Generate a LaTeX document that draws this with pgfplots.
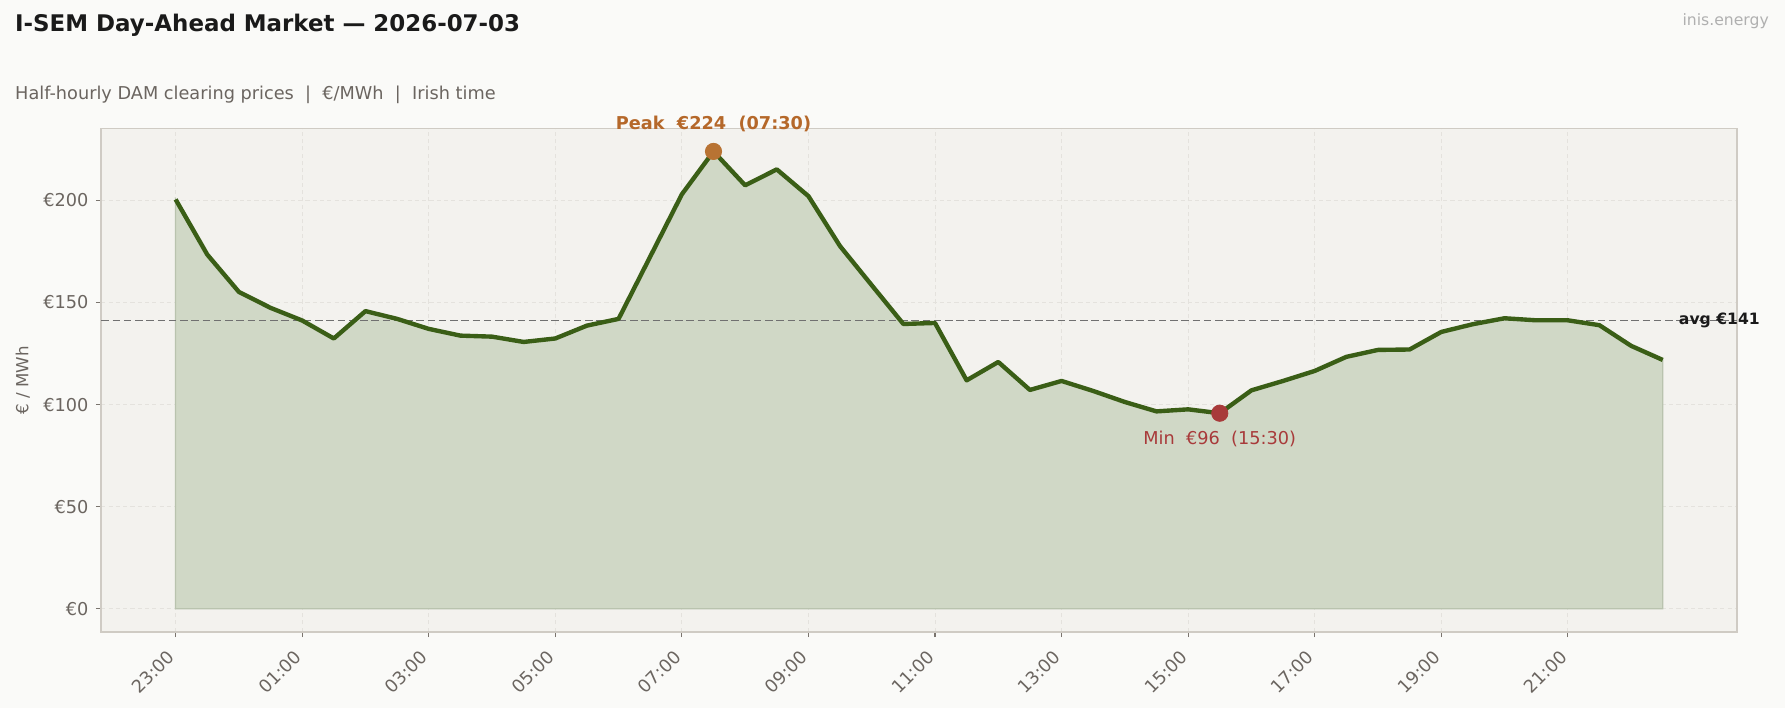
\documentclass[border=0pt]{standalone}
\usepackage{pgfplots}
\pgfplotsset{compat=1.18}
\usepackage{fontspec}
\setmainfont{DejaVu Sans}
\definecolor{figbg}{HTML}{FAFAF8}
\definecolor{axbg}{HTML}{F3F2EE}
\definecolor{frame}{HTML}{CFCBC4}
\definecolor{gridc}{HTML}{E4E2DD}
\definecolor{tickc}{HTML}{7A746E}
\definecolor{labc}{HTML}{6B6560}
\definecolor{linec}{HTML}{3A5E16}
\definecolor{fillc}{HTML}{D0D8C6}
\definecolor{filledge}{HTML}{B9C3AE}
\definecolor{peakc}{HTML}{B87333}
\definecolor{peaktxt}{HTML}{B5682A}
\definecolor{minc}{HTML}{A83A3A}
\definecolor{avgc}{HTML}{707070}
\definecolor{titlec}{HTML}{1A1A1A}
\definecolor{brandc}{HTML}{B0B0B0}
\pgfplotstableread{
i v
0 200.5
1 173.5
2 155.2
3 147.4
4 141.2
5 132.4
6 145.8
7 142.0
8 137.1
9 133.8
10 133.3
11 130.7
12 132.4
13 138.7
14 142.0
15 172.5
16 203.0
17 224.0
18 207.4
19 215.2
20 202.1
21 177.6
22 158.5
23 139.5
24 140.0
25 111.9
26 120.9
27 107.2
28 111.6
29 106.7
30 101.3
31 96.7
32 97.7
33 95.8
34 107.0
35 111.6
36 116.5
37 123.4
38 126.8
39 127.0
40 135.6
41 139.4
42 142.3
43 141.3
44 141.3
45 138.9
46 128.8
47 121.9
}\prices
\begin{document}
\begin{tikzpicture}
\path[fill=figbg] (-48.6pt,-36.6pt) rectangle (808.1pt,303.2pt);
\useasboundingbox (-48.6pt,-36.6pt) rectangle (808.1pt,303.2pt);
\begin{axis}[
  at={(0,0)}, anchor=south west,
  width=785.1pt, height=241.5pt, scale only axis,
  xmin=-2.35, xmax=49.35, ymin=-11.2, ymax=235.2,
  axis background/.style={fill=axbg},
  axis line style={draw=frame, line width=0.8pt},
  xtick={0,4,...,44},
  xticklabels={23:00,01:00,03:00,05:00,07:00,09:00,11:00,13:00,15:00,17:00,19:00,21:00},
  ytick={0,50,100,150,200},
  yticklabels={€0,€50,€100,€150,€200},
  xtick pos=lower, ytick pos=left,
  tick align=outside, major tick length=2.6pt,
  tick style={draw=tickc, line width=0.6pt},
  tick label style={font=\fontsize{8.5}{10}\selectfont, text=labc},
  x tick label style={rotate=45, anchor=north east, inner sep=1pt, xshift=-6pt, yshift=0.2pt},
  xmajorgrids, ymajorgrids,
  grid style={draw=gridc, line width=0.4pt, dash pattern=on 2pt off 1.5pt},
  clip=false,
]
\addplot[draw=filledge, line width=0.6pt, fill=fillc] table[x=i,y=v] {\prices} \closedcycle;
\addplot[draw=avgc, line width=0.9pt, dash pattern=on 3.6pt off 1.8pt] coordinates {(-2.35,141.2) (49.35,141.2)};
\addplot[draw=linec, line width=2.1pt, line join=round] table[x=i,y=v] {\prices};
\addplot[only marks, mark=*, mark size=3.9pt, color=peakc] coordinates {(17,224.0)};
\addplot[only marks, mark=*, mark size=3.9pt, color=minc] coordinates {(33,95.8)};
\node[font=\fontsize{8.5}{10}\selectfont\bfseries, text=peaktxt] at (axis cs:17,237.5) {Peak\ \ €224\ \ (07:30)};
\node[font=\fontsize{8.5}{10}\selectfont, text=minc] at (axis cs:33,83) {Min\ \ €96\ \ (15:30)};
\node[font=\fontsize{7.5}{9}\selectfont\bfseries, text=titlec, anchor=west, inner sep=0pt] at (axis cs:47.5,141.2) {avg €141};
\end{axis}
\node[rotate=90, anchor=center, inner sep=0pt, font=\fontsize{8}{10}\selectfont, text=labc] at (-37.7pt,120.75pt) {€ / MWh};
\node[anchor=west, inner sep=0pt, font=\fontsize{11}{14}\selectfont\bfseries, text=titlec] at (-41.5pt,291.3pt) {I-SEM Day-Ahead Market — 2026-07-03};
\node[anchor=west, inner sep=0pt, font=\fontsize{8.5}{11}\selectfont, text=labc] at (-41.5pt,257.9pt) {Half-hourly DAM clearing prices\ \ |\ \ €/MWh\ \ |\ \ Irish time};
\node[anchor=east, inner sep=0pt, font=\fontsize{7.5}{10}\selectfont, text=brandc] at (800.5pt,292.9pt) {inis.energy};
\end{tikzpicture}
\end{document}
